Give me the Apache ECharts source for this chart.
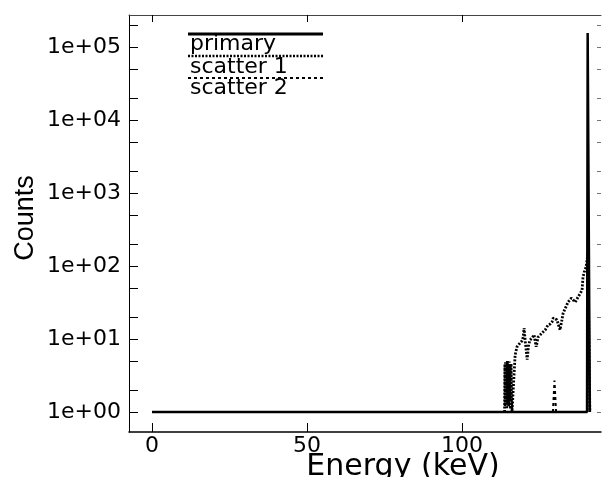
<!DOCTYPE html>
<html>
<head>
<meta charset="utf-8">
<script src="https://cdn.jsdelivr.net/npm/echarts@6/dist/echarts.min.js"></script>
<style>
  html, body { margin: 0; padding: 0; background: #fff; }
  #chart { width: 603px; height: 477px; }
</style>
</head>
<body>
<div id="chart"></div>
<script>
// energy spectrum, log counts
const primary = [[0, 1], [140.3, 1], [140.5, 155000], [141.0, 155000], [141.2, 1]];
const scatter1 = [
  [113.7, 1], [113.8, 4.5], [113.9, 1.2], [114.0, 4.8], [114.1, 1.5], [114.3, 4.6],
  [114.4, 1.1], [114.6, 5.0], [114.7, 1.3], [114.9, 4.4], [115.0, 1.2], [115.2, 4.9],
  [115.3, 1.4], [115.5, 4.2], [115.6, 1.1], [115.8, 4.6], [115.9, 1.5], [116.1, 1],
  [117.1, 6.0], [117.7, 7.8], [118.7, 8.8], [119.4, 9.5], [119.7, 10.6], [120.0, 14.1],
  [120.4, 9], [121.0, 5.2], [121.4, 8], [121.9, 9.7], [122.6, 10.3], [123.2, 11.4],
  [123.9, 7.8], [124.5, 10.6], [125.1, 11], [125.8, 12.1], [126.8, 13.3], [127.7, 15.5],
  [128.4, 16], [129.0, 17.1], [129.4, 19.4], [130.0, 18.5], [130.6, 18.3], [131.2, 15],
  [131.6, 13.3], [132.6, 22.7], [133.4, 27], [134.2, 32.1], [135.2, 36.3], [136.5, 32],
  [137.4, 37.6], [138.1, 42], [138.7, 46.9], [139.0, 70.6], [139.4, 82.7], [140.0, 96.9],
  [140.3, 121], [140.6, 150], [141.2, 1]
];
const scatter2 = [[129.3, 1], [129.8, 2.7], [130.3, 1]];
const xTicks = [0, 50, 100];
const yLabels = [1, 10, 100, 1000, 10000, 100000];
const yTicks = [1, 2, 5, 10, 20, 50, 100, 200, 500, 1000, 2000, 5000,
  10000, 20000, 50000, 100000, 200000];

const chart = echarts.init(document.getElementById('chart'));
const xMin = -7.42, xMax = 144.8, yMin = 0.532, yMax = 2.74e5;
const tickFont = { fontFamily: 'DejaVu Sans', fontSize: 22, color: '#000' };

let option = {
  animation: false,
  backgroundColor: '#fff',
  grid: { left: 129, right: 2, top: 15, bottom: 45, outerBoundsMode: 'none' },
  xAxis: [{
    type: 'value', min: xMin, max: xMax, position: 'bottom',
    axisLine: { onZero: false, lineStyle: { color: '#000', width: 1.5 } },
    axisTick: { inside: true, length: 9, customValues: xTicks, lineStyle: { color: '#000' } },
    axisLabel: Object.assign({ customValues: xTicks, margin: 3 }, tickFont),
    splitLine: { show: false },
    name: 'Energy (keV)', nameLocation: 'middle', nameGap: 20, nameMoveOverlap: false,
    nameTextStyle: { fontFamily: 'DejaVu Sans', fontSize: 30, color: '#000', padding: [0, 0, 0, 76] }
  }, {
    type: 'value', min: xMin, max: xMax, position: 'top',
    axisLine: { onZero: false, lineStyle: { color: '#444', width: 1 } },
    axisTick: { inside: true, length: 7, customValues: xTicks, lineStyle: { color: '#000' } },
    axisLabel: { show: false },
    splitLine: { show: false }
  }],
  yAxis: [{
    type: 'log', min: yMin, max: yMax, position: 'left',
    axisLine: { show: true, onZero: false, lineStyle: { color: '#000', width: 1 } },
    axisTick: { inside: true, length: 9, customValues: yTicks, lineStyle: { color: '#000' } },
    axisLabel: Object.assign({
      customValues: yLabels, margin: 8,
      formatter: v => '1e+' + String(Math.round(Math.log10(v))).padStart(2, '0')
    }, tickFont),
    splitLine: { show: false },
    name: 'Counts', nameLocation: 'middle', nameGap: 90, nameMoveOverlap: false,
    nameTextStyle: { fontFamily: 'Liberation Sans', fontSize: 27, color: '#000', padding: [0, 0, 0, 11] }
  }, {
    type: 'log', min: yMin, max: yMax, position: 'right',
    axisLine: { show: false, onZero: false },
    axisTick: { show: true, inside: true, length: 4, customValues: yTicks, lineStyle: { color: '#777' } },
    axisLabel: { show: false },
    splitLine: { show: false }
  }],
  series: [{
    name: 'scatter 1', type: 'line', data: scatter1, showSymbol: false,
    lineStyle: { color: '#000', width: 2.8, type: [2, 1.5] }
  }, {
    name: 'scatter 2', type: 'line', data: scatter2, showSymbol: false,
    lineStyle: { color: '#000', width: 2, type: [3, 3] }
  }, {
    name: 'primary', type: 'line', data: primary, showSymbol: false, z: 5,
    lineStyle: { color: '#000', width: 2.5 }
  }],
  graphic: [
    { type: 'line', shape: { x1: 188, y1: 34, x2: 323, y2: 34 }, style: { stroke: '#000', lineWidth: 3 } },
    { type: 'text', x: 190, y: 44, style: { text: 'primary', font: '22px "DejaVu Sans"', fill: '#000', verticalAlign: 'middle' } },
    { type: 'line', shape: { x1: 188, y1: 56, x2: 323, y2: 56 }, style: { stroke: '#000', lineWidth: 2.5, lineDash: [2, 1.5] } },
    { type: 'text', x: 190, y: 67, style: { text: 'scatter 1', font: '22px "DejaVu Sans"', fill: '#000', verticalAlign: 'middle' } },
    { type: 'line', shape: { x1: 188, y1: 78, x2: 323, y2: 78 }, style: { stroke: '#000', lineWidth: 2, lineDash: [3, 3] } },
    { type: 'text', x: 190, y: 88, style: { text: 'scatter 2', font: '22px "DejaVu Sans"', fill: '#000', verticalAlign: 'middle' } }
  ]
};
chart.setOption(option);
</script>
</body>
</html>
